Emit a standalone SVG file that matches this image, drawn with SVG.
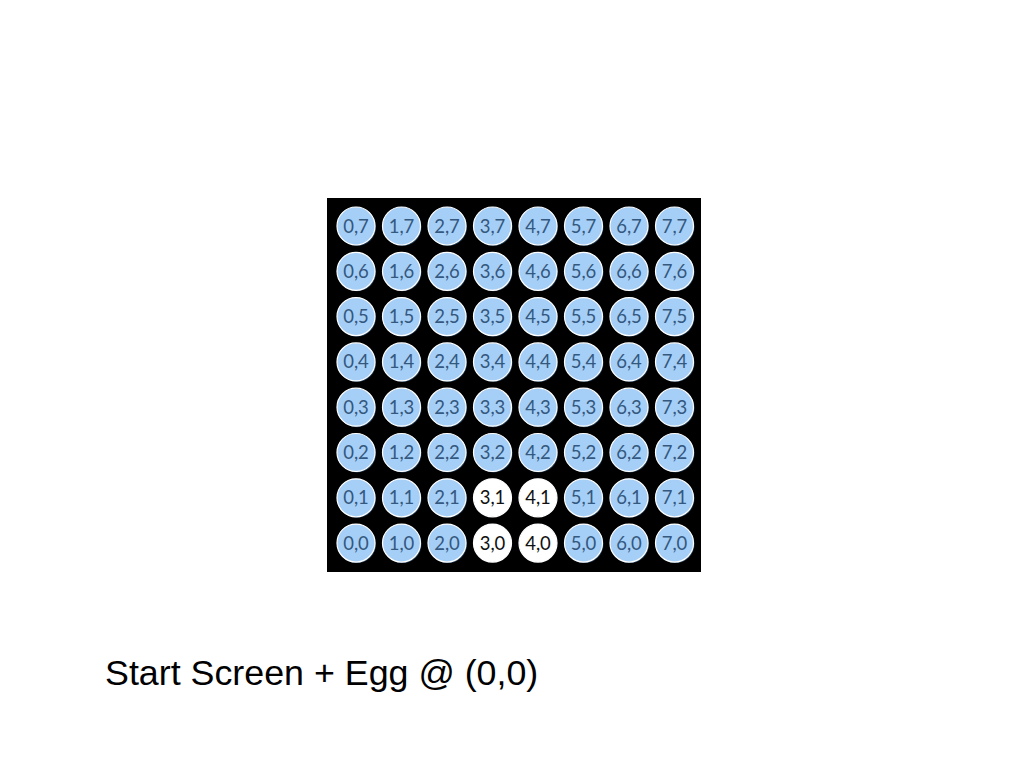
<svg xmlns="http://www.w3.org/2000/svg" width="1028" height="772" viewBox="0 0 1028 772">
<style>
.c{fill:#a6cff7;stroke:#ffffff;stroke-width:1.2}
.w{fill:#ffffff;stroke:#ffffff;stroke-width:1.2}
.s{fill:#24425e}
.t{font-family:Lato,"Open Sans",sans-serif;font-size:18.5px;fill:#34587e;text-anchor:middle}
.tw{font-family:Lato,"Open Sans",sans-serif;font-size:18.5px;fill:#111111;text-anchor:middle}
</style>
<rect width="1028" height="772" fill="#ffffff"/>
<rect x="327" y="198" width="374" height="374" fill="#000000"/>
<g id="nodes">
<g id="n0-7"><circle class="s" cx="357" cy="227" r="19"/><circle class="c" cx="356" cy="226" r="19"/><text class="t" x="356" y="232.5">0,7</text></g>
<g id="n1-7"><circle class="s" cx="402.5" cy="227" r="19"/><circle class="c" cx="401.5" cy="226" r="19"/><text class="t" x="401.5" y="232.5">1,7</text></g>
<g id="n2-7"><circle class="s" cx="448" cy="227" r="19"/><circle class="c" cx="447" cy="226" r="19"/><text class="t" x="447" y="232.5">2,7</text></g>
<g id="n3-7"><circle class="s" cx="493.5" cy="227" r="19"/><circle class="c" cx="492.5" cy="226" r="19"/><text class="t" x="492.5" y="232.5">3,7</text></g>
<g id="n4-7"><circle class="s" cx="539" cy="227" r="19"/><circle class="c" cx="538" cy="226" r="19"/><text class="t" x="538" y="232.5">4,7</text></g>
<g id="n5-7"><circle class="s" cx="584.5" cy="227" r="19"/><circle class="c" cx="583.5" cy="226" r="19"/><text class="t" x="583.5" y="232.5">5,7</text></g>
<g id="n6-7"><circle class="s" cx="630" cy="227" r="19"/><circle class="c" cx="629" cy="226" r="19"/><text class="t" x="629" y="232.5">6,7</text></g>
<g id="n7-7"><circle class="s" cx="675.5" cy="227" r="19"/><circle class="c" cx="674.5" cy="226" r="19"/><text class="t" x="674.5" y="232.5">7,7</text></g>

<g id="n0-6"><circle class="s" cx="357" cy="272.3" r="19"/><circle class="c" cx="356" cy="271.3" r="19"/><text class="t" x="356" y="277.8">0,6</text></g>
<g id="n1-6"><circle class="s" cx="402.5" cy="272.3" r="19"/><circle class="c" cx="401.5" cy="271.3" r="19"/><text class="t" x="401.5" y="277.8">1,6</text></g>
<g id="n2-6"><circle class="s" cx="448" cy="272.3" r="19"/><circle class="c" cx="447" cy="271.3" r="19"/><text class="t" x="447" y="277.8">2,6</text></g>
<g id="n3-6"><circle class="s" cx="493.5" cy="272.3" r="19"/><circle class="c" cx="492.5" cy="271.3" r="19"/><text class="t" x="492.5" y="277.8">3,6</text></g>
<g id="n4-6"><circle class="s" cx="539" cy="272.3" r="19"/><circle class="c" cx="538" cy="271.3" r="19"/><text class="t" x="538" y="277.8">4,6</text></g>
<g id="n5-6"><circle class="s" cx="584.5" cy="272.3" r="19"/><circle class="c" cx="583.5" cy="271.3" r="19"/><text class="t" x="583.5" y="277.8">5,6</text></g>
<g id="n6-6"><circle class="s" cx="630" cy="272.3" r="19"/><circle class="c" cx="629" cy="271.3" r="19"/><text class="t" x="629" y="277.8">6,6</text></g>
<g id="n7-6"><circle class="s" cx="675.5" cy="272.3" r="19"/><circle class="c" cx="674.5" cy="271.3" r="19"/><text class="t" x="674.5" y="277.8">7,6</text></g>

<g id="n0-5"><circle class="s" cx="357" cy="317.6" r="19"/><circle class="c" cx="356" cy="316.6" r="19"/><text class="t" x="356" y="323.1">0,5</text></g>
<g id="n1-5"><circle class="s" cx="402.5" cy="317.6" r="19"/><circle class="c" cx="401.5" cy="316.6" r="19"/><text class="t" x="401.5" y="323.1">1,5</text></g>
<g id="n2-5"><circle class="s" cx="448" cy="317.6" r="19"/><circle class="c" cx="447" cy="316.6" r="19"/><text class="t" x="447" y="323.1">2,5</text></g>
<g id="n3-5"><circle class="s" cx="493.5" cy="317.6" r="19"/><circle class="c" cx="492.5" cy="316.6" r="19"/><text class="t" x="492.5" y="323.1">3,5</text></g>
<g id="n4-5"><circle class="s" cx="539" cy="317.6" r="19"/><circle class="c" cx="538" cy="316.6" r="19"/><text class="t" x="538" y="323.1">4,5</text></g>
<g id="n5-5"><circle class="s" cx="584.5" cy="317.6" r="19"/><circle class="c" cx="583.5" cy="316.6" r="19"/><text class="t" x="583.5" y="323.1">5,5</text></g>
<g id="n6-5"><circle class="s" cx="630" cy="317.6" r="19"/><circle class="c" cx="629" cy="316.6" r="19"/><text class="t" x="629" y="323.1">6,5</text></g>
<g id="n7-5"><circle class="s" cx="675.5" cy="317.6" r="19"/><circle class="c" cx="674.5" cy="316.6" r="19"/><text class="t" x="674.5" y="323.1">7,5</text></g>

<g id="n0-4"><circle class="s" cx="357" cy="362.9" r="19"/><circle class="c" cx="356" cy="361.9" r="19"/><text class="t" x="356" y="368.4">0,4</text></g>
<g id="n1-4"><circle class="s" cx="402.5" cy="362.9" r="19"/><circle class="c" cx="401.5" cy="361.9" r="19"/><text class="t" x="401.5" y="368.4">1,4</text></g>
<g id="n2-4"><circle class="s" cx="448" cy="362.9" r="19"/><circle class="c" cx="447" cy="361.9" r="19"/><text class="t" x="447" y="368.4">2,4</text></g>
<g id="n3-4"><circle class="s" cx="493.5" cy="362.9" r="19"/><circle class="c" cx="492.5" cy="361.9" r="19"/><text class="t" x="492.5" y="368.4">3,4</text></g>
<g id="n4-4"><circle class="s" cx="539" cy="362.9" r="19"/><circle class="c" cx="538" cy="361.9" r="19"/><text class="t" x="538" y="368.4">4,4</text></g>
<g id="n5-4"><circle class="s" cx="584.5" cy="362.9" r="19"/><circle class="c" cx="583.5" cy="361.9" r="19"/><text class="t" x="583.5" y="368.4">5,4</text></g>
<g id="n6-4"><circle class="s" cx="630" cy="362.9" r="19"/><circle class="c" cx="629" cy="361.9" r="19"/><text class="t" x="629" y="368.4">6,4</text></g>
<g id="n7-4"><circle class="s" cx="675.5" cy="362.9" r="19"/><circle class="c" cx="674.5" cy="361.9" r="19"/><text class="t" x="674.5" y="368.4">7,4</text></g>

<g id="n0-3"><circle class="s" cx="357" cy="408.2" r="19"/><circle class="c" cx="356" cy="407.2" r="19"/><text class="t" x="356" y="413.7">0,3</text></g>
<g id="n1-3"><circle class="s" cx="402.5" cy="408.2" r="19"/><circle class="c" cx="401.5" cy="407.2" r="19"/><text class="t" x="401.5" y="413.7">1,3</text></g>
<g id="n2-3"><circle class="s" cx="448" cy="408.2" r="19"/><circle class="c" cx="447" cy="407.2" r="19"/><text class="t" x="447" y="413.7">2,3</text></g>
<g id="n3-3"><circle class="s" cx="493.5" cy="408.2" r="19"/><circle class="c" cx="492.5" cy="407.2" r="19"/><text class="t" x="492.5" y="413.7">3,3</text></g>
<g id="n4-3"><circle class="s" cx="539" cy="408.2" r="19"/><circle class="c" cx="538" cy="407.2" r="19"/><text class="t" x="538" y="413.7">4,3</text></g>
<g id="n5-3"><circle class="s" cx="584.5" cy="408.2" r="19"/><circle class="c" cx="583.5" cy="407.2" r="19"/><text class="t" x="583.5" y="413.7">5,3</text></g>
<g id="n6-3"><circle class="s" cx="630" cy="408.2" r="19"/><circle class="c" cx="629" cy="407.2" r="19"/><text class="t" x="629" y="413.7">6,3</text></g>
<g id="n7-3"><circle class="s" cx="675.5" cy="408.2" r="19"/><circle class="c" cx="674.5" cy="407.2" r="19"/><text class="t" x="674.5" y="413.7">7,3</text></g>

<g id="n0-2"><circle class="s" cx="357" cy="453.5" r="19"/><circle class="c" cx="356" cy="452.5" r="19"/><text class="t" x="356" y="459">0,2</text></g>
<g id="n1-2"><circle class="s" cx="402.5" cy="453.5" r="19"/><circle class="c" cx="401.5" cy="452.5" r="19"/><text class="t" x="401.5" y="459">1,2</text></g>
<g id="n2-2"><circle class="s" cx="448" cy="453.5" r="19"/><circle class="c" cx="447" cy="452.5" r="19"/><text class="t" x="447" y="459">2,2</text></g>
<g id="n3-2"><circle class="s" cx="493.5" cy="453.5" r="19"/><circle class="c" cx="492.5" cy="452.5" r="19"/><text class="t" x="492.5" y="459">3,2</text></g>
<g id="n4-2"><circle class="s" cx="539" cy="453.5" r="19"/><circle class="c" cx="538" cy="452.5" r="19"/><text class="t" x="538" y="459">4,2</text></g>
<g id="n5-2"><circle class="s" cx="584.5" cy="453.5" r="19"/><circle class="c" cx="583.5" cy="452.5" r="19"/><text class="t" x="583.5" y="459">5,2</text></g>
<g id="n6-2"><circle class="s" cx="630" cy="453.5" r="19"/><circle class="c" cx="629" cy="452.5" r="19"/><text class="t" x="629" y="459">6,2</text></g>
<g id="n7-2"><circle class="s" cx="675.5" cy="453.5" r="19"/><circle class="c" cx="674.5" cy="452.5" r="19"/><text class="t" x="674.5" y="459">7,2</text></g>

<g id="n0-1"><circle class="s" cx="357" cy="498.8" r="19"/><circle class="c" cx="356" cy="497.8" r="19"/><text class="t" x="356" y="504.3">0,1</text></g>
<g id="n1-1"><circle class="s" cx="402.5" cy="498.8" r="19"/><circle class="c" cx="401.5" cy="497.8" r="19"/><text class="t" x="401.5" y="504.3">1,1</text></g>
<g id="n2-1"><circle class="s" cx="448" cy="498.8" r="19"/><circle class="c" cx="447" cy="497.8" r="19"/><text class="t" x="447" y="504.3">2,1</text></g>
<g id="n3-1"><circle class="w" cx="492.5" cy="497.8" r="19"/><text class="tw" x="492.5" y="504.3">3,1</text></g>
<g id="n4-1"><circle class="w" cx="538" cy="497.8" r="19"/><text class="tw" x="538" y="504.3">4,1</text></g>
<g id="n5-1"><circle class="s" cx="584.5" cy="498.8" r="19"/><circle class="c" cx="583.5" cy="497.8" r="19"/><text class="t" x="583.5" y="504.3">5,1</text></g>
<g id="n6-1"><circle class="s" cx="630" cy="498.8" r="19"/><circle class="c" cx="629" cy="497.8" r="19"/><text class="t" x="629" y="504.3">6,1</text></g>
<g id="n7-1"><circle class="s" cx="675.5" cy="498.8" r="19"/><circle class="c" cx="674.5" cy="497.8" r="19"/><text class="t" x="674.5" y="504.3">7,1</text></g>

<g id="n0-0"><circle class="s" cx="357" cy="544.1" r="19"/><circle class="c" cx="356" cy="543.1" r="19"/><text class="t" x="356" y="549.6">0,0</text></g>
<g id="n1-0"><circle class="s" cx="402.5" cy="544.1" r="19"/><circle class="c" cx="401.5" cy="543.1" r="19"/><text class="t" x="401.5" y="549.6">1,0</text></g>
<g id="n2-0"><circle class="s" cx="448" cy="544.1" r="19"/><circle class="c" cx="447" cy="543.1" r="19"/><text class="t" x="447" y="549.6">2,0</text></g>
<g id="n3-0"><circle class="w" cx="492.5" cy="543.1" r="19"/><text class="tw" x="492.5" y="549.6">3,0</text></g>
<g id="n4-0"><circle class="w" cx="538" cy="543.1" r="19"/><text class="tw" x="538" y="549.6">4,0</text></g>
<g id="n5-0"><circle class="s" cx="584.5" cy="544.1" r="19"/><circle class="c" cx="583.5" cy="543.1" r="19"/><text class="t" x="583.5" y="549.6">5,0</text></g>
<g id="n6-0"><circle class="s" cx="630" cy="544.1" r="19"/><circle class="c" cx="629" cy="543.1" r="19"/><text class="t" x="629" y="549.6">6,0</text></g>
<g id="n7-0"><circle class="s" cx="675.5" cy="544.1" r="19"/><circle class="c" cx="674.5" cy="543.1" r="19"/><text class="t" x="674.5" y="549.6">7,0</text></g>
</g>
<g id="connectors"></g>
<text id="caption" x="105" y="685" font-family="'Liberation Sans',Arial,sans-serif" font-size="35.8" fill="#000000">Start Screen + Egg @ (0,0)</text>
</svg>
